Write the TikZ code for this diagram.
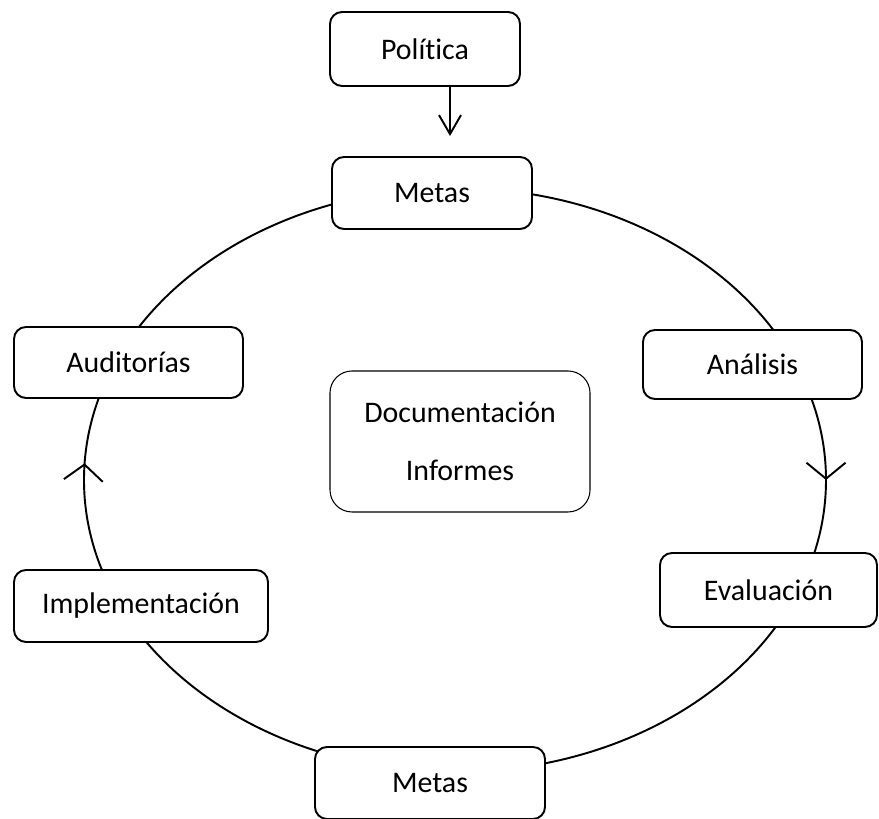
\documentclass[tikz,border=0pt]{standalone}
\usepackage{fontspec}
\setmainfont{Carlito}[Ligatures=NoCommon]
\usetikzlibrary{arrows.meta, calc}
\usetikzlibrary{decorations.markings}

\begin{document}
\begin{tikzpicture}[>={Straight Barb[length=0.38cm, width=0.44cm]}, line cap=round, line join=round,
	font=\fontsize{17}{20}\selectfont,
	etapa/.style={draw, line width=1.1pt, rounded corners=0.24cm, fill=white,
		minimum height=1.44cm, inner sep=2pt},
	centro/.style={draw, line width=0.6pt, rounded corners=0.44cm, fill=white,
		minimum width=5.2cm, minimum height=2.82cm, align=center},
	ciclo/.style={line width=1.1pt}]
\useasboundingbox (0,0) rectangle (17.58,16.38);
%========================
% cycle (clockwise)
%========================
\draw[ciclo, postaction={decorate},
	decoration={markings,
		mark=at position 0.25 with {\arrow{Straight Barb[length=0.32cm, width=0.78cm]}},
		mark=at position 0.758 with {\arrow{Straight Barb[length=0.32cm, width=0.78cm]}}}]
	(9.10,12.62) arc[start angle=90, end angle=-270, x radius=7.42cm, y radius=5.84cm];

%========================
% stages
%========================
\node[etapa, minimum width=3.8cm, minimum height=1.48cm] (politica) at (8.50,15.40) {Política};
\node[etapa, minimum width=4.0cm] (metasA) at (8.64,12.52) {Metas};
\node[etapa, minimum width=4.58cm, minimum height=1.42cm] (auditorias) at (2.57,9.13) {Auditorías};
\node[etapa, minimum width=4.38cm, minimum height=1.38cm] (analisis) at (15.05,9.09) {Análisis};
\node[etapa, minimum width=4.34cm, minimum height=1.48cm] (evaluacion) at (15.37,4.58) {Evaluación};
\node[etapa, minimum width=5.08cm] (implementacion) at (2.82,4.26) {Implementación};
\node[etapa, minimum width=4.6cm] (metasB) at (8.60,0.72) {Metas};

% center box
\node[centro, font=\fontsize{17}{33}\selectfont] (docu) at (9.20,7.55) {Documentación\\Informes};

% policy feeds the goals
\draw[->, line width=1.1pt, shorten >=0.4cm] ([xshift=0.5cm]politica.south) -- ([xshift=0.36cm]metasA.north);
\end{tikzpicture}
\end{document}
